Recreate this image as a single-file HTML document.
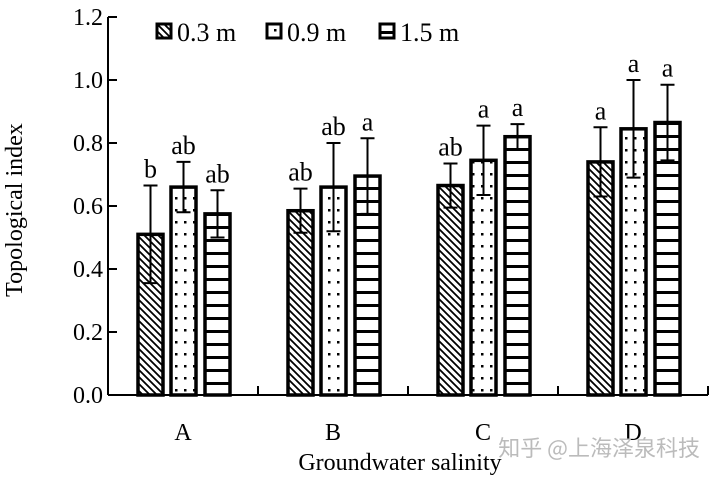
<!DOCTYPE html>
<html><head><meta charset="utf-8"><style>
body{margin:0;background:#fff}
svg{display:block;font-family:"Liberation Serif",serif}
</style></head><body>
<svg width="711" height="478" viewBox="0 0 711 478">
<defs>
<pattern id="pDiag" width="7" height="7" patternUnits="userSpaceOnUse"><rect width="7" height="7" fill="#fff"/><path d="M-1,-1 L8,8 M-8,-1 L1,8 M6,-1 L15,8" stroke="#000" stroke-width="1.8"/></pattern>
<pattern id="pDot" width="9" height="12" patternUnits="userSpaceOnUse"><rect width="9" height="12" fill="#fff"/><rect x="4" y="5" width="2.5" height="2.5" fill="#000"/></pattern>
<pattern id="pHor" width="10" height="13" patternUnits="userSpaceOnUse"><rect width="10" height="13" fill="#fff"/><rect x="0" y="5" width="10" height="3" fill="#000"/></pattern>
</defs>
<g id="chart"></g>
<text x="22" y="210" transform="rotate(-90 22 210)" text-anchor="middle" font-size="24">Topological index</text>
<text x="400" y="470" text-anchor="middle" font-size="24">Groundwater salinity</text>
<text x="700" y="456" text-anchor="end" font-size="22" fill="#bbb" style="font-family:'Noto Sans CJK SC',sans-serif">知乎 @上海泽泉科技</text>
</svg>
<script>
const categories=["A","B","C","D"];
const seriesNames=["0.3 m","0.9 m","1.5 m"];
const s03=[0.51,0.585,0.665,0.74];
const s09=[0.66,0.66,0.745,0.845];
const s15=[0.575,0.695,0.82,0.865];
const e03=[0.155,0.07,0.07,0.11];
const e09=[0.08,0.14,0.11,0.155];
const e15=[0.075,0.12,0.04,0.12];
const l03=["b","ab","ab","a"];
const l09=["ab","ab","a","a"];
const l15=["ab","a","a","a"];
const yTicks=[0,0.2,0.4,0.6,0.8,1.0,1.2];
const NS="http://www.w3.org/2000/svg";
const g=document.getElementById('chart');
const y0=395,pxPerUnit=315,x0=108,step=150;
const yS=v=>y0-v*pxPerUnit;
const xG=i=>x0+i*step;
function mk(t,a,p){const e=document.createElementNS(NS,t);for(const k in a)e.setAttribute(k,a[k]);(p||g).appendChild(e);return e;}
let ax=mk('line',{x1:x0,y1:y0,x2:x0,y2:yS(1.2),stroke:'#000','stroke-width':2});


ax=mk('line',{x1:x0,y1:y0,x2:xG(4),y2:y0,stroke:'#000','stroke-width':2});


yTicks.forEach(v=>{
 mk('line',{x1:x0,x2:x0+9,y1:yS(v),y2:yS(v),stroke:'#000','stroke-width':2});
 const t=mk('text',{x:x0-5,y:yS(v)+8,'text-anchor':'end','font-size':24});
 t.textContent=v.toFixed(1);
 
 
});
for(let i=1;i<=4;i++)mk('line',{x1:xG(i),x2:xG(i),y1:y0,y2:y0-9,stroke:'#000','stroke-width':2});
const series=[[s03,e03,l03,'pDiag'],[s09,e09,l09,'pDot'],[s15,e15,l15,'pHor']];
const offs=[30,63,97],bw=25;
categories.forEach((c,i)=>{
 const t=mk('text',{x:xG(i)+75,y:440,'text-anchor':'middle','font-size':24});
 t.textContent=c;
 
 
 series.forEach((s,j)=>{
  const v=s[0][i],e=s[1][i],x=xG(i)+offs[j];
  const r=mk('rect',{x:x,y:yS(v),width:bw,height:y0-yS(v),fill:'url(#'+s[3]+')',stroke:'#000','stroke-width':3.5});
  
  
  const cx=x+bw/2;
  mk('path',{d:`M${cx},${yS(v-e)}V${yS(v+e)}M${cx-7},${yS(v+e)}H${cx+7}M${cx-7},${yS(v-e)}H${cx+7}`,stroke:'#000','stroke-width':2,fill:'none'});
  const L=mk('text',{x:cx,y:yS(v+e)-8,'text-anchor':'middle','font-size':26});
  L.textContent=s[2][i];
  
  
 });
});
const lx=[157,267,380];
seriesNames.forEach((n,j)=>{
 const r=mk('rect',{x:lx[j],y:24,width:14,height:14,fill:'url(#'+series[j][3]+')',stroke:'#000','stroke-width':3});
 
 
 const t=mk('text',{x:lx[j]+20,y:41,'font-size':26});
 t.textContent=n;
 
 
});
</script>
</body></html>
